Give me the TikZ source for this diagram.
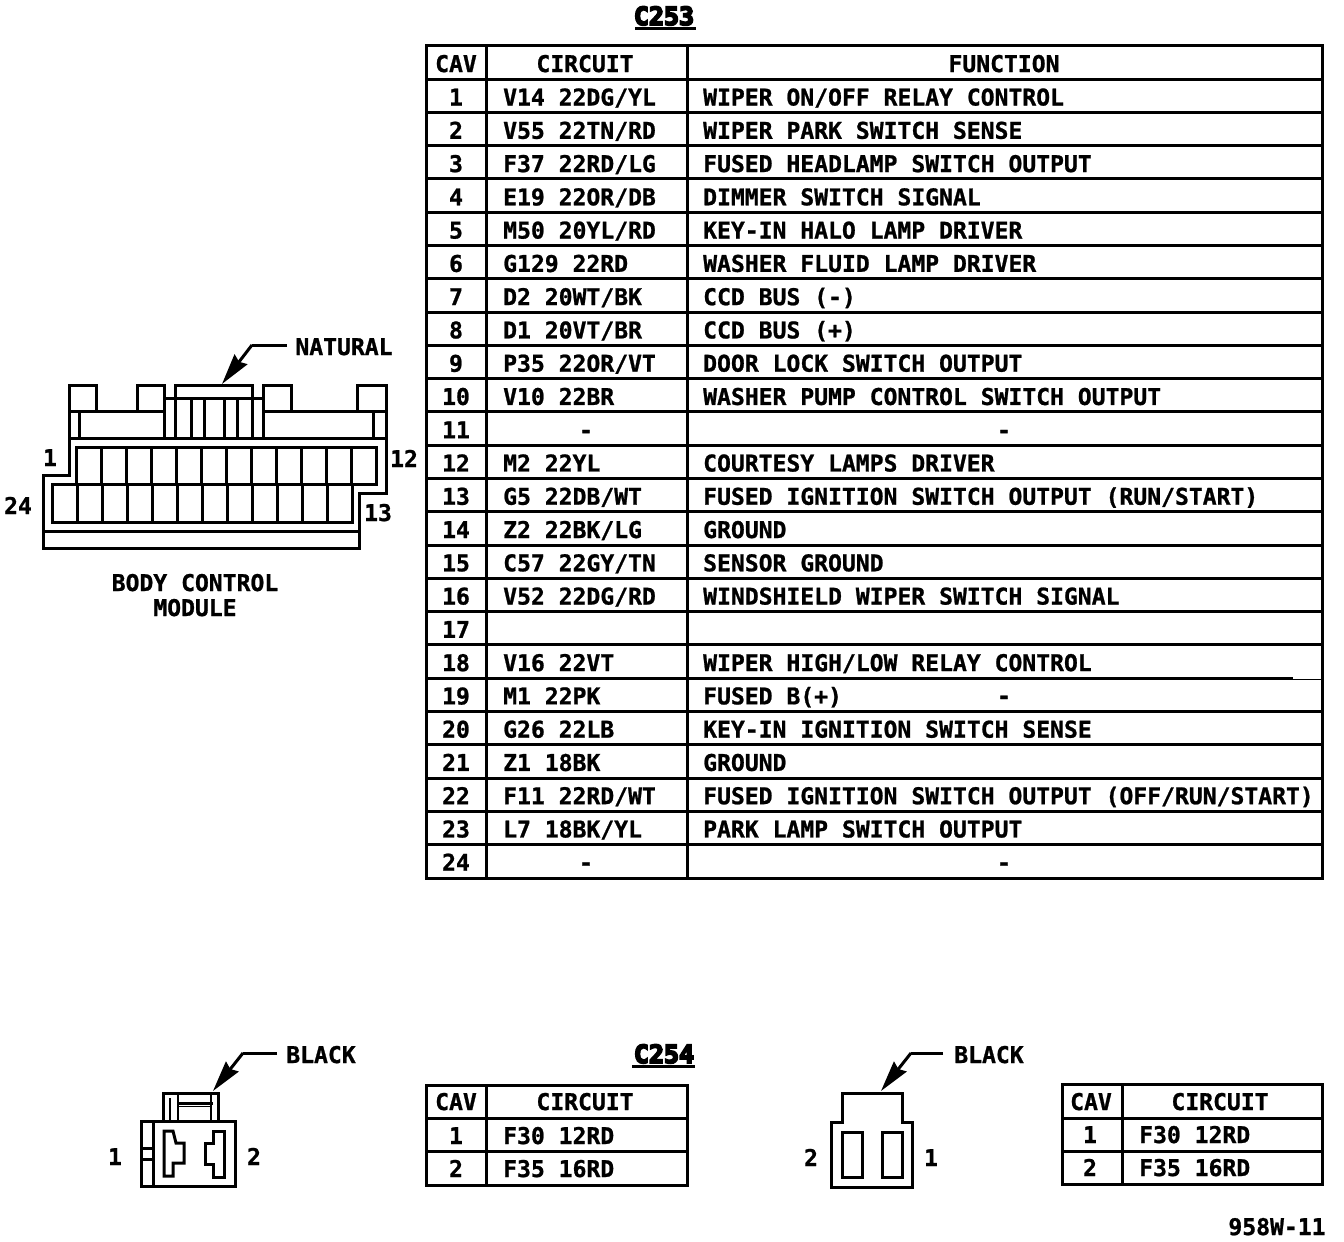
\documentclass[tikz,border=0pt]{standalone}
\usepackage{fontspec}
\newfontfamily\titlefnt[FakeBold=7]{DejaVu Sans Mono Bold}
\newfontfamily\bodyfnt[FakeBold=1]{DejaVu Sans Mono Bold}
\usetikzlibrary{arrows.meta}
\tikzset{
  ln/.style={line width=3pt,line join=miter,line cap=rect},
  thin ln/.style={line width=2.6pt},
  txt/.style={inner sep=0pt,anchor=base,font=\fontsize{23.05}{24}\bodyfnt},
  ltxt/.style={txt,anchor=base west},
  ttl/.style={inner sep=0pt,anchor=base,font=\fontsize{25}{26}\titlefnt},
  leader/.style={line width=3pt,-{Stealth[length=31pt,width=16pt,inset=3pt]}},
}
% row of the main table: number, cav, circuit, function
\newcommand{\mainrow}[4]{%
  \pgfmathsetmacro{\ry}{105.5+33.27*(#1-1)}%
  \node[txt] (cav#1) at (456,\ry) {#2};%
  \node[ltxt] (cir#1) at (503,\ry) {#3};%
  \node[ltxt] (fun#1) at (703,\ry) {#4};%
}
\newcommand{\dashrow}[2]{%
  \pgfmathsetmacro{\ry}{105.5+33.27*(#1-1)}%
  \node[txt] (cav#1) at (456,\ry) {#1};%
  \node[txt] (cir#1) at (586,\ry) {#2};%
  \node[txt] (fun#1) at (1004,\ry) {#2};%
}
\begin{document}
\begin{tikzpicture}[x=1pt,y=-1pt]
\useasboundingbox (0,0) rectangle (1344,1242);
\fill[white] (0,0) rectangle (1344,1242);

% ---------- C253 table
\node[ttl] (t253) at (664,25) {C253};
\draw[line width=3pt] (635,28.5) -- (696,28.5);
\draw[ln] (426,45) rectangle (1322,878);
\draw[ln] (486,45) -- (486,878);
\draw[ln] (687,45) -- (687,878);
\foreach \i in {0,...,23} \draw[ln] (426,79+33.29*\i) -- (1322,79+33.29*\i);
\fill[white] (1293,677) rectangle (1320.5,678.6);
\node[txt] (hcav) at (456,72) {CAV};
\node[txt] (hcir) at (585,72) {CIRCUIT};
\node[txt] (hfun) at (1004,72) {FUNCTION};
\mainrow{1}{1}{V14 22DG/YL}{WIPER ON/OFF RELAY CONTROL}
\mainrow{2}{2}{V55 22TN/RD}{WIPER PARK SWITCH SENSE}
\mainrow{3}{3}{F37 22RD/LG}{FUSED HEADLAMP SWITCH OUTPUT}
\mainrow{4}{4}{E19 22OR/DB}{DIMMER SWITCH SIGNAL}
\mainrow{5}{5}{M50 20YL/RD}{KEY-IN HALO LAMP DRIVER}
\mainrow{6}{6}{G129 22RD}{WASHER FLUID LAMP DRIVER}
\mainrow{7}{7}{D2 20WT/BK}{CCD BUS (-)}
\mainrow{8}{8}{D1 20VT/BR}{CCD BUS (+)}
\mainrow{9}{9}{P35 22OR/VT}{DOOR LOCK SWITCH OUTPUT}
\mainrow{10}{10}{V10 22BR}{WASHER PUMP CONTROL SWITCH OUTPUT}
\dashrow{11}{-}
\mainrow{12}{12}{M2 22YL}{COURTESY LAMPS DRIVER}
\mainrow{13}{13}{G5 22DB/WT}{FUSED IGNITION SWITCH OUTPUT (RUN/START)}
\mainrow{14}{14}{Z2 22BK/LG}{GROUND}
\mainrow{15}{15}{C57 22GY/TN}{SENSOR GROUND}
\mainrow{16}{16}{V52 22DG/RD}{WINDSHIELD WIPER SWITCH SIGNAL}
\mainrow{17}{17}{}{}
\mainrow{18}{18}{V16 22VT}{WIPER HIGH/LOW RELAY CONTROL}
\mainrow{19}{19}{M1 22PK}{FUSED B(+)}
\node[txt] (fun19b) at (1004,704) {-};
\mainrow{20}{20}{G26 22LB}{KEY-IN IGNITION SWITCH SENSE}
\mainrow{21}{21}{Z1 18BK}{GROUND}
\mainrow{22}{22}{F11 22RD/WT}{FUSED IGNITION SWITCH OUTPUT (OFF/RUN/START)}
\mainrow{23}{23}{L7 18BK/YL}{PARK LAMP SWITCH OUTPUT}
\dashrow{24}{-}

% ---------- Body control module connector
\draw[ln] (69,475) -- (43,475) -- (43,548) -- (359,548) -- (359,493) -- (386,493) -- (386,385)
  -- (357,385) -- (357,411) -- (291,411) -- (291,385) -- (263,385) -- (263,411);
\draw[ln] (69,475) -- (69,385) -- (96,385) -- (96,411) -- (137,411) -- (137,385) -- (164,385) -- (164,438);
\draw[ln] (69,411) -- (164,411);
\draw[ln] (263,411) -- (386,411);
\draw[ln] (263,385) -- (263,438);
\draw[ln] (175,438) -- (175,385) -- (252,385) -- (252,438);
\draw[ln] (164,398) -- (263,398);
\foreach \x in {191,204,224,237} \draw[ln] (\x,398) -- (\x,438);
\draw[ln] (79,411) -- (79,438);
\draw[ln] (373,411) -- (373,438);
\draw[ln] (69,438) -- (386,438);
\draw[ln] (43,531) -- (359,531);
\draw[ln] (76,447) rectangle (376,484);
\draw[ln] (52,484) rectangle (352,522);
\foreach \i in {1,...,11} \draw[ln] (76+25*\i,447) -- (76+25*\i,484);
\foreach \i in {1,...,11} \draw[ln] (52+25*\i,484) -- (52+25*\i,522);
\node[txt] (p1) at (50,466) {1};
\node[txt] (p12) at (404,467) {12};
\node[txt] (p24) at (18,514) {24};
\node[txt] (p13) at (378,521) {13};
\node[txt] (natural) at (344,355) {NATURAL};
\node[txt] (bcm1) at (195,591) {BODY CONTROL};
\node[txt] (bcm2) at (195,616) {MODULE};
\coordinate (nat0) at (287,345);
\coordinate (nat1) at (252,345);
\coordinate (nat2) at (222,384);
\draw[line width=3pt] (nat0) -- (nat1);
\draw[leader] (nat1) -- (nat2);

% ---------- C254 left connector
\draw[ln] (141,1121) rectangle (235,1186);
\draw[ln] (163,1121) -- (163,1093) -- (218,1093) -- (218,1121);
\draw[ln] (153,1121) -- (153,1186);
\draw[ln] (141,1148) -- (153,1148);
\draw[ln] (141,1159) -- (153,1159);
\draw[thin ln] (170,1098) -- (170,1121);
\draw[thin ln] (178,1093) -- (178,1121);
\draw[thin ln] (211,1093) -- (211,1121);
\draw[ln] (178,1103) -- (211,1103);
\draw[line width=1.6pt] (178,1106.5) -- (211,1106.5);
\draw[ln] (164,1131) -- (173,1131) -- (176,1143) -- (184,1143) -- (184,1163) -- (173,1163) -- (173,1176) -- (164,1176) -- cycle;
\draw[ln] (224,1131) -- (213,1131) -- (213,1143) -- (205,1143) -- (205,1164) -- (213,1164) -- (213,1177) -- (224,1177) -- cycle;
\node[txt] (l1) at (115,1165) {1};
\node[txt] (l2) at (254,1165) {2};
\node[txt] (lblack) at (321,1063) {BLACK};
\coordinate (lb0) at (277,1053);
\coordinate (lb1) at (243,1053);
\coordinate (lb2) at (213,1091);
\draw[line width=3pt] (lb0) -- (lb1);
\draw[leader] (lb1) -- (lb2);

% ---------- C254 left table
\node[ttl] (t254) at (664,1063) {C254};
\draw[line width=3pt] (632,1066.5) -- (695,1066.5);
\draw[ln] (426,1085) rectangle (687,1185);
\draw[ln] (486,1085) -- (486,1185);
\draw[ln] (426,1118) -- (687,1118);
\draw[ln] (426,1151) -- (687,1151);
\node[txt] (lhc) at (456,1110) {CAV};
\node[txt] (lhd) at (585,1110) {CIRCUIT};
\node[txt] (la1) at (456,1144) {1};
\node[ltxt] (lb1t) at (503,1144) {F30 12RD};
\node[txt] (la2) at (456,1177) {2};
\node[ltxt] (lb2t) at (503,1177) {F35 16RD};

% ---------- right connector
\draw[ln] (831,1187) -- (831,1122) -- (842,1122) -- (842,1093) -- (902,1093) -- (902,1122) -- (912,1122) -- (912,1187) -- cycle;
\draw[ln] (842,1132) rectangle (862,1177);
\draw[ln] (882,1132) rectangle (902,1177);
\node[txt] (r2) at (811,1166) {2};
\node[txt] (r1) at (931,1166) {1};
\node[txt] (rblack) at (989,1063) {BLACK};
\coordinate (rb0) at (943,1053);
\coordinate (rb1) at (911,1053);
\coordinate (rb2) at (881,1091);
\draw[line width=3pt] (rb0) -- (rb1);
\draw[leader] (rb1) -- (rb2);

% ---------- right table
\draw[ln] (1062,1084) rectangle (1322,1184);
\draw[ln] (1122,1084) -- (1122,1184);
\draw[ln] (1062,1118) -- (1322,1118);
\draw[ln] (1062,1151) -- (1322,1151);
\node[txt] (rhc) at (1091,1110) {CAV};
\node[txt] (rhd) at (1220,1110) {CIRCUIT};
\node[txt] (ra1) at (1090,1143) {1};
\node[ltxt] (rb1t) at (1139,1143) {F30 12RD};
\node[txt] (ra2) at (1090,1176) {2};
\node[ltxt] (rb2t) at (1139,1176) {F35 16RD};

\node[txt] (code) at (1277,1235) {958W-11};
\end{tikzpicture}
\end{document}
